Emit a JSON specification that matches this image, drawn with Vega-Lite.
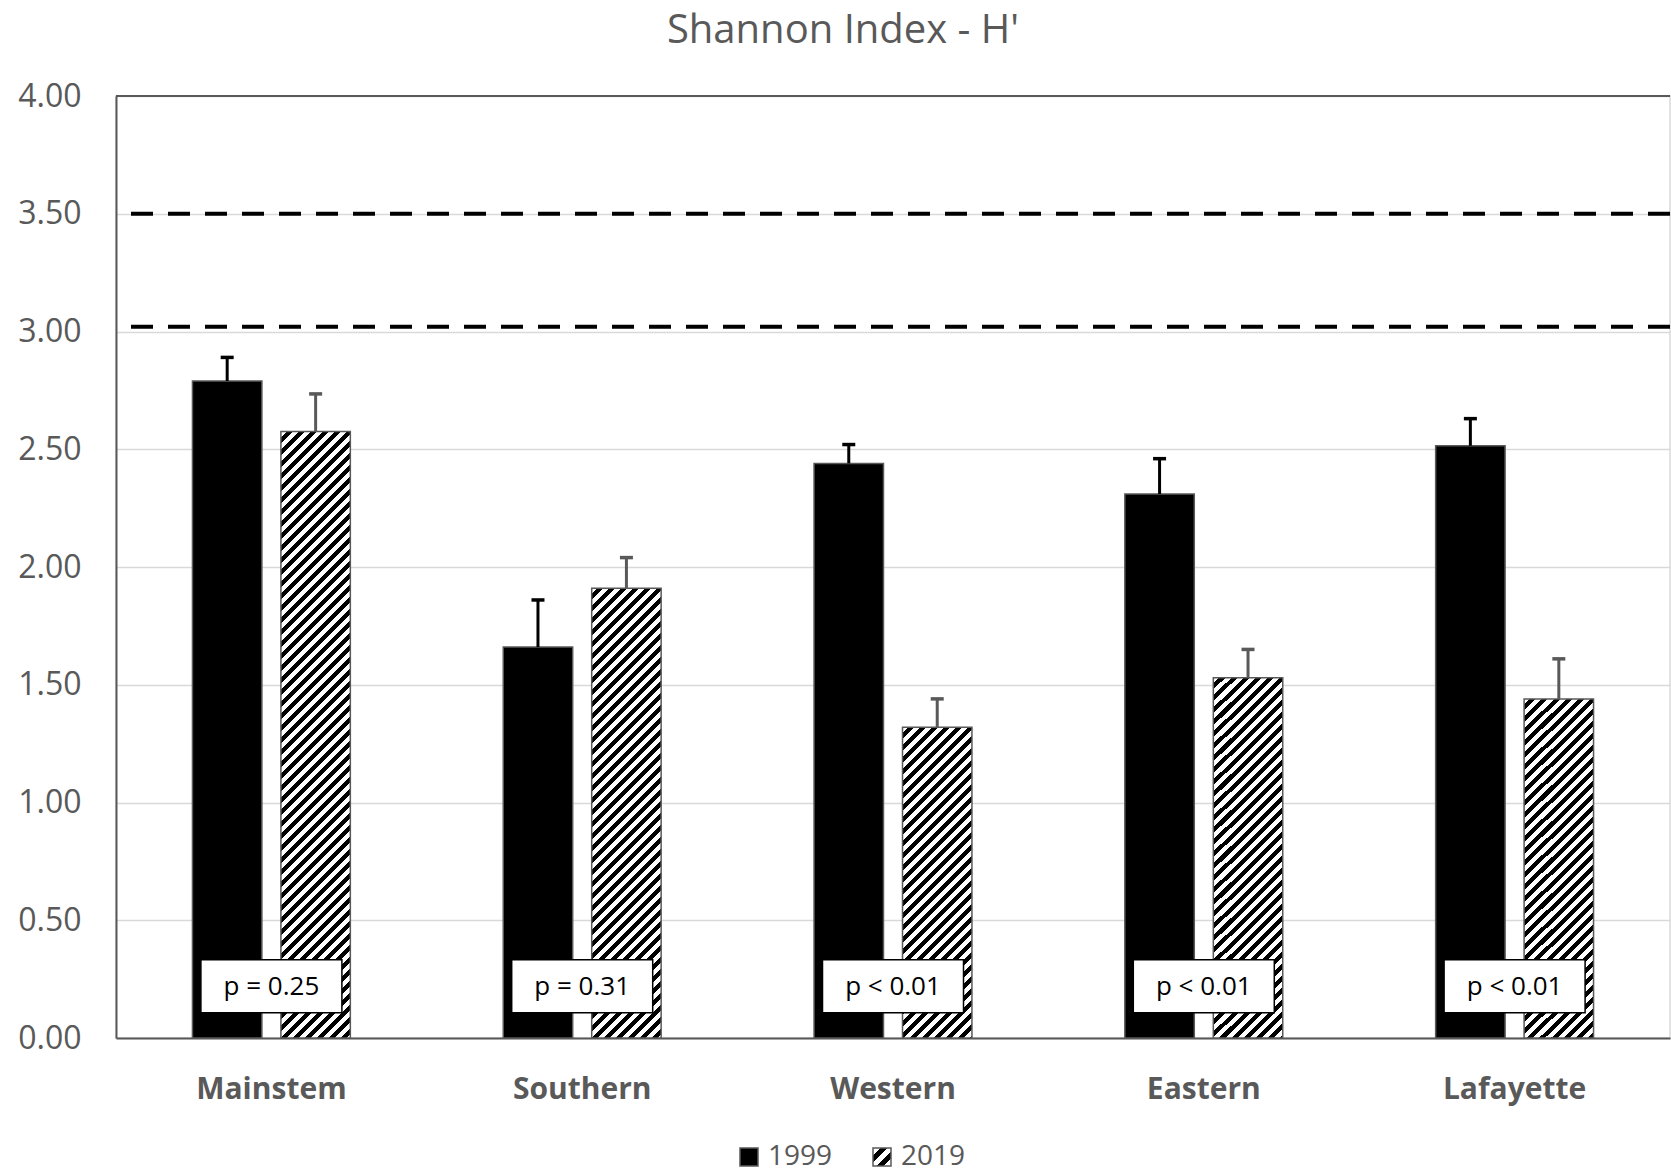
{
  "$schema": "https://vega.github.io/schema/vega-lite/v6.json",
  "width": 1554,
  "height": 942,
  "autosize": {"type": "none"},
  "padding": {"left": 116, "top": 96, "right": 1, "bottom": 134},
  "background": "white",
  "params": [
    {"name": "hatchLegend", "value": {"gradient": "linear", "x1": 0, "y1": 0, "x2": 1, "y2": 1, "stops": [
      {"offset": 0, "color": "#fff"}, {"offset": 0.2, "color": "#fff"},
      {"offset": 0.2, "color": "#000"}, {"offset": 0.4, "color": "#000"},
      {"offset": 0.4, "color": "#fff"}, {"offset": 0.6, "color": "#fff"},
      {"offset": 0.6, "color": "#000"}, {"offset": 0.8, "color": "#000"},
      {"offset": 0.8, "color": "#fff"}, {"offset": 1, "color": "#fff"}
    ]}},
    {"name": "hatch", "value": [
      {"offset":0,"color":"#fff"},
      {"offset":0.00833,"color":"#fff"},{"offset":0.00833,"color":"#000"},{"offset":0.01667,"color":"#000"},{"offset":0.01667,"color":"#fff"},
      {"offset":0.025,"color":"#fff"},{"offset":0.025,"color":"#000"},{"offset":0.03333,"color":"#000"},{"offset":0.03333,"color":"#fff"},
      {"offset":0.04167,"color":"#fff"},{"offset":0.04167,"color":"#000"},{"offset":0.05,"color":"#000"},{"offset":0.05,"color":"#fff"},
      {"offset":0.05833,"color":"#fff"},{"offset":0.05833,"color":"#000"},{"offset":0.06667,"color":"#000"},{"offset":0.06667,"color":"#fff"},
      {"offset":0.075,"color":"#fff"},{"offset":0.075,"color":"#000"},{"offset":0.08333,"color":"#000"},{"offset":0.08333,"color":"#fff"},
      {"offset":0.09167,"color":"#fff"},{"offset":0.09167,"color":"#000"},{"offset":0.1,"color":"#000"},{"offset":0.1,"color":"#fff"},
      {"offset":0.10833,"color":"#fff"},{"offset":0.10833,"color":"#000"},{"offset":0.11667,"color":"#000"},{"offset":0.11667,"color":"#fff"},
      {"offset":0.125,"color":"#fff"},{"offset":0.125,"color":"#000"},{"offset":0.13333,"color":"#000"},{"offset":0.13333,"color":"#fff"},
      {"offset":0.14167,"color":"#fff"},{"offset":0.14167,"color":"#000"},{"offset":0.15,"color":"#000"},{"offset":0.15,"color":"#fff"},
      {"offset":0.15833,"color":"#fff"},{"offset":0.15833,"color":"#000"},{"offset":0.16667,"color":"#000"},{"offset":0.16667,"color":"#fff"},
      {"offset":0.175,"color":"#fff"},{"offset":0.175,"color":"#000"},{"offset":0.18333,"color":"#000"},{"offset":0.18333,"color":"#fff"},
      {"offset":0.19167,"color":"#fff"},{"offset":0.19167,"color":"#000"},{"offset":0.2,"color":"#000"},{"offset":0.2,"color":"#fff"},
      {"offset":0.20833,"color":"#fff"},{"offset":0.20833,"color":"#000"},{"offset":0.21667,"color":"#000"},{"offset":0.21667,"color":"#fff"},
      {"offset":0.225,"color":"#fff"},{"offset":0.225,"color":"#000"},{"offset":0.23333,"color":"#000"},{"offset":0.23333,"color":"#fff"},
      {"offset":0.24167,"color":"#fff"},{"offset":0.24167,"color":"#000"},{"offset":0.25,"color":"#000"},{"offset":0.25,"color":"#fff"},
      {"offset":0.25833,"color":"#fff"},{"offset":0.25833,"color":"#000"},{"offset":0.26667,"color":"#000"},{"offset":0.26667,"color":"#fff"},
      {"offset":0.275,"color":"#fff"},{"offset":0.275,"color":"#000"},{"offset":0.28333,"color":"#000"},{"offset":0.28333,"color":"#fff"},
      {"offset":0.29167,"color":"#fff"},{"offset":0.29167,"color":"#000"},{"offset":0.3,"color":"#000"},{"offset":0.3,"color":"#fff"},
      {"offset":0.30833,"color":"#fff"},{"offset":0.30833,"color":"#000"},{"offset":0.31667,"color":"#000"},{"offset":0.31667,"color":"#fff"},
      {"offset":0.325,"color":"#fff"},{"offset":0.325,"color":"#000"},{"offset":0.33333,"color":"#000"},{"offset":0.33333,"color":"#fff"},
      {"offset":0.34167,"color":"#fff"},{"offset":0.34167,"color":"#000"},{"offset":0.35,"color":"#000"},{"offset":0.35,"color":"#fff"},
      {"offset":0.35833,"color":"#fff"},{"offset":0.35833,"color":"#000"},{"offset":0.36667,"color":"#000"},{"offset":0.36667,"color":"#fff"},
      {"offset":0.375,"color":"#fff"},{"offset":0.375,"color":"#000"},{"offset":0.38333,"color":"#000"},{"offset":0.38333,"color":"#fff"},
      {"offset":0.39167,"color":"#fff"},{"offset":0.39167,"color":"#000"},{"offset":0.4,"color":"#000"},{"offset":0.4,"color":"#fff"},
      {"offset":0.40833,"color":"#fff"},{"offset":0.40833,"color":"#000"},{"offset":0.41667,"color":"#000"},{"offset":0.41667,"color":"#fff"},
      {"offset":0.425,"color":"#fff"},{"offset":0.425,"color":"#000"},{"offset":0.43333,"color":"#000"},{"offset":0.43333,"color":"#fff"},
      {"offset":0.44167,"color":"#fff"},{"offset":0.44167,"color":"#000"},{"offset":0.45,"color":"#000"},{"offset":0.45,"color":"#fff"},
      {"offset":0.45833,"color":"#fff"},{"offset":0.45833,"color":"#000"},{"offset":0.46667,"color":"#000"},{"offset":0.46667,"color":"#fff"},
      {"offset":0.475,"color":"#fff"},{"offset":0.475,"color":"#000"},{"offset":0.48333,"color":"#000"},{"offset":0.48333,"color":"#fff"},
      {"offset":0.49167,"color":"#fff"},{"offset":0.49167,"color":"#000"},{"offset":0.5,"color":"#000"},{"offset":0.5,"color":"#fff"},
      {"offset":0.50833,"color":"#fff"},{"offset":0.50833,"color":"#000"},{"offset":0.51667,"color":"#000"},{"offset":0.51667,"color":"#fff"},
      {"offset":0.525,"color":"#fff"},{"offset":0.525,"color":"#000"},{"offset":0.53333,"color":"#000"},{"offset":0.53333,"color":"#fff"},
      {"offset":0.54167,"color":"#fff"},{"offset":0.54167,"color":"#000"},{"offset":0.55,"color":"#000"},{"offset":0.55,"color":"#fff"},
      {"offset":0.55833,"color":"#fff"},{"offset":0.55833,"color":"#000"},{"offset":0.56667,"color":"#000"},{"offset":0.56667,"color":"#fff"},
      {"offset":0.575,"color":"#fff"},{"offset":0.575,"color":"#000"},{"offset":0.58333,"color":"#000"},{"offset":0.58333,"color":"#fff"},
      {"offset":0.59167,"color":"#fff"},{"offset":0.59167,"color":"#000"},{"offset":0.6,"color":"#000"},{"offset":0.6,"color":"#fff"},
      {"offset":0.60833,"color":"#fff"},{"offset":0.60833,"color":"#000"},{"offset":0.61667,"color":"#000"},{"offset":0.61667,"color":"#fff"},
      {"offset":0.625,"color":"#fff"},{"offset":0.625,"color":"#000"},{"offset":0.63333,"color":"#000"},{"offset":0.63333,"color":"#fff"},
      {"offset":0.64167,"color":"#fff"},{"offset":0.64167,"color":"#000"},{"offset":0.65,"color":"#000"},{"offset":0.65,"color":"#fff"},
      {"offset":0.65833,"color":"#fff"},{"offset":0.65833,"color":"#000"},{"offset":0.66667,"color":"#000"},{"offset":0.66667,"color":"#fff"},
      {"offset":0.675,"color":"#fff"},{"offset":0.675,"color":"#000"},{"offset":0.68333,"color":"#000"},{"offset":0.68333,"color":"#fff"},
      {"offset":0.69167,"color":"#fff"},{"offset":0.69167,"color":"#000"},{"offset":0.7,"color":"#000"},{"offset":0.7,"color":"#fff"},
      {"offset":0.70833,"color":"#fff"},{"offset":0.70833,"color":"#000"},{"offset":0.71667,"color":"#000"},{"offset":0.71667,"color":"#fff"},
      {"offset":0.725,"color":"#fff"},{"offset":0.725,"color":"#000"},{"offset":0.73333,"color":"#000"},{"offset":0.73333,"color":"#fff"},
      {"offset":0.74167,"color":"#fff"},{"offset":0.74167,"color":"#000"},{"offset":0.75,"color":"#000"},{"offset":0.75,"color":"#fff"},
      {"offset":0.75833,"color":"#fff"},{"offset":0.75833,"color":"#000"},{"offset":0.76667,"color":"#000"},{"offset":0.76667,"color":"#fff"},
      {"offset":0.775,"color":"#fff"},{"offset":0.775,"color":"#000"},{"offset":0.78333,"color":"#000"},{"offset":0.78333,"color":"#fff"},
      {"offset":0.79167,"color":"#fff"},{"offset":0.79167,"color":"#000"},{"offset":0.8,"color":"#000"},{"offset":0.8,"color":"#fff"},
      {"offset":0.80833,"color":"#fff"},{"offset":0.80833,"color":"#000"},{"offset":0.81667,"color":"#000"},{"offset":0.81667,"color":"#fff"},
      {"offset":0.825,"color":"#fff"},{"offset":0.825,"color":"#000"},{"offset":0.83333,"color":"#000"},{"offset":0.83333,"color":"#fff"},
      {"offset":0.84167,"color":"#fff"},{"offset":0.84167,"color":"#000"},{"offset":0.85,"color":"#000"},{"offset":0.85,"color":"#fff"},
      {"offset":0.85833,"color":"#fff"},{"offset":0.85833,"color":"#000"},{"offset":0.86667,"color":"#000"},{"offset":0.86667,"color":"#fff"},
      {"offset":0.875,"color":"#fff"},{"offset":0.875,"color":"#000"},{"offset":0.88333,"color":"#000"},{"offset":0.88333,"color":"#fff"},
      {"offset":0.89167,"color":"#fff"},{"offset":0.89167,"color":"#000"},{"offset":0.9,"color":"#000"},{"offset":0.9,"color":"#fff"},
      {"offset":0.90833,"color":"#fff"},{"offset":0.90833,"color":"#000"},{"offset":0.91667,"color":"#000"},{"offset":0.91667,"color":"#fff"},
      {"offset":0.925,"color":"#fff"},{"offset":0.925,"color":"#000"},{"offset":0.93333,"color":"#000"},{"offset":0.93333,"color":"#fff"},
      {"offset":0.94167,"color":"#fff"},{"offset":0.94167,"color":"#000"},{"offset":0.95,"color":"#000"},{"offset":0.95,"color":"#fff"},
      {"offset":0.95833,"color":"#fff"},{"offset":0.95833,"color":"#000"},{"offset":0.96667,"color":"#000"},{"offset":0.96667,"color":"#fff"},
      {"offset":0.975,"color":"#fff"},{"offset":0.975,"color":"#000"},{"offset":0.98333,"color":"#000"},{"offset":0.98333,"color":"#fff"},
      {"offset":0.99167,"color":"#fff"},{"offset":0.99167,"color":"#000"},{"offset":1,"color":"#000"}
    ]}
  ],
  "title": {
    "text": "Shannon Index - H'",
    "fontSize": 40,
    "font": "Open Sans",
    "fontWeight": "normal",
    "color": "#595959",
    "anchor": "middle",
    "baseline": "alphabetic",
    "dx": -50,
    "offset": -3
  },
  "datasets": {
    "bars": [
      {"site": "Mainstem", "year": "1999", "value": 2.79, "upper": 2.89},
      {"site": "Mainstem", "year": "2019", "value": 2.575, "upper": 2.735},
      {"site": "Southern", "year": "1999", "value": 1.66, "upper": 1.86},
      {"site": "Southern", "year": "2019", "value": 1.91, "upper": 2.04},
      {"site": "Western", "year": "1999", "value": 2.44, "upper": 2.52},
      {"site": "Western", "year": "2019", "value": 1.32, "upper": 1.44},
      {"site": "Eastern", "year": "1999", "value": 2.31, "upper": 2.46},
      {"site": "Eastern", "year": "2019", "value": 1.53, "upper": 1.65},
      {"site": "Lafayette", "year": "1999", "value": 2.515, "upper": 2.63},
      {"site": "Lafayette", "year": "2019", "value": 1.44, "upper": 1.61}
    ],
    "refs": [{"ref": 3.5}, {"ref": 3.02}],
    "pvals": [
      {"site": "Mainstem", "label": "p = 0.25"},
      {"site": "Southern", "label": "p = 0.31"},
      {"site": "Western", "label": "p < 0.01"},
      {"site": "Eastern", "label": "p < 0.01"},
      {"site": "Lafayette", "label": "p < 0.01"}
    ]
  },
  "layer": [
    {
      "data": {"name": "bars"},
      "mark": {"type": "bar", "stroke": "#595959", "strokeWidth": 1.5},
      "encoding": {
        "x": {
          "field": "site", "type": "nominal", "title": null,
          "sort": ["Mainstem", "Southern", "Western", "Eastern", "Lafayette"],
          "scale": {"paddingInner": 0.492, "paddingOuter": 0.246},
          "axis": {
            "labelAngle": 0, "labelFontSize": 30, "labelFontWeight": "bold", "labelColor": "#595959",
            "labelFont": "Open Sans", "labelPadding": 36, "ticks": false,
            "domainColor": "#595959", "domainWidth": 2, "grid": false
          }
        },
        "xOffset": {"field": "year", "type": "nominal", "scale": {"paddingInner": 0.215, "paddingOuter": 0}},
        "y": {
          "field": "value", "type": "quantitative", "title": null,
          "scale": {"domain": [0, 4], "nice": false},
          "axis": {
            "values": [0, 0.5, 1, 1.5, 2, 2.5, 3, 3.5, 4], "format": ".2f",
            "labelFontSize": 32, "labelColor": "#595959", "labelFont": "Open Sans", "labelPadding": 35,
            "ticks": false, "domainColor": "#595959", "domainWidth": 2,
            "grid": true, "gridColor": "#d9d9d9", "gridWidth": 1.5
          }
        },
        "fill": {
          "field": "year", "type": "nominal",
          "scale": {"domain": ["1999", "2019"], "range": ["#000000", {"expr": "hatchLegend"}]},
          "condition": {
            "test": "datum.year === '2019'",
            "value": {"expr": "{gradient: 'linear', x1: 0, y1: 0, x2: 720*69.4/(69.4*69.4 + pow(datum.value*235.5, 2)), y2: 720*datum.value*235.5/(69.4*69.4 + pow(datum.value*235.5, 2)), stops: hatch}"}
          },
          "legend": {
            "orient": "none", "legendX": 619, "legendY": 1047, "direction": "horizontal",
            "title": null, "symbolType": "square", "symbolSize": 324,
            "symbolStrokeWidth": 1.5,
            "labelFontSize": 28, "labelColor": "#595959", "labelFont": "Open Sans",
            "labelOffset": 5, "columnPadding": 35
          }
        }
      }
    },
    {
      "data": {"name": "bars"},
      "mark": {"type": "rule", "strokeWidth": 3},
      "encoding": {
        "x": {"field": "site", "type": "nominal", "title": null, "sort": ["Mainstem", "Southern", "Western", "Eastern", "Lafayette"]},
        "xOffset": {"field": "year", "type": "nominal"},
        "y": {"field": "value", "type": "quantitative", "title": null},
        "y2": {"field": "upper"},
        "stroke": {"condition": {"test": "datum.year === '2019'", "value": "#595959"}, "value": "#000000"}
      }
    },
    {
      "data": {"name": "bars"},
      "mark": {"type": "point", "shape": "stroke", "size": 169, "strokeWidth": 3.5, "filled": false, "opacity": 1},
      "encoding": {
        "x": {"field": "site", "type": "nominal", "title": null, "sort": ["Mainstem", "Southern", "Western", "Eastern", "Lafayette"]},
        "xOffset": {"field": "year", "type": "nominal"},
        "y": {"field": "upper", "type": "quantitative", "title": null},
        "stroke": {"condition": {"test": "datum.year === '2019'", "value": "#595959"}, "value": "#000000"}
      }
    },
    {
      "data": {"name": "refs"},
      "mark": {"type": "rule", "color": "#000000", "strokeWidth": 4, "strokeDash": [22, 15]},
      "encoding": {
        "y": {"field": "ref", "type": "quantitative", "title": null}
      }
    },
    {
      "data": {"name": "refs"},
      "mark": {"type": "rule", "color": "#595959", "strokeWidth": 2},
      "encoding": {
        "y": {"datum": 4, "type": "quantitative", "title": null}
      }
    },
    {
      "data": {"name": "pvals"},
      "mark": {"type": "bar", "width": 141, "fill": "#ffffff", "stroke": "#000000", "strokeWidth": 1.5},
      "encoding": {
        "x": {"field": "site", "type": "nominal", "title": null, "sort": ["Mainstem", "Southern", "Western", "Eastern", "Lafayette"]},
        "y": {"datum": 0.3325, "type": "quantitative", "title": null},
        "y2": {"datum": 0.1075}
      }
    },
    {
      "data": {"name": "pvals"},
      "mark": {"type": "text", "fontSize": 26, "font": "Open Sans", "color": "#000000", "baseline": "middle", "align": "center"},
      "encoding": {
        "x": {"field": "site", "type": "nominal", "title": null, "sort": ["Mainstem", "Southern", "Western", "Eastern", "Lafayette"]},
        "y": {"datum": 0.215, "type": "quantitative", "title": null},
        "text": {"field": "label"}
      }
    }
  ],
  "config": {
    "font": "Open Sans",
    "view": {"stroke": "#d9d9d9", "strokeWidth": 1.5}
  }
}
